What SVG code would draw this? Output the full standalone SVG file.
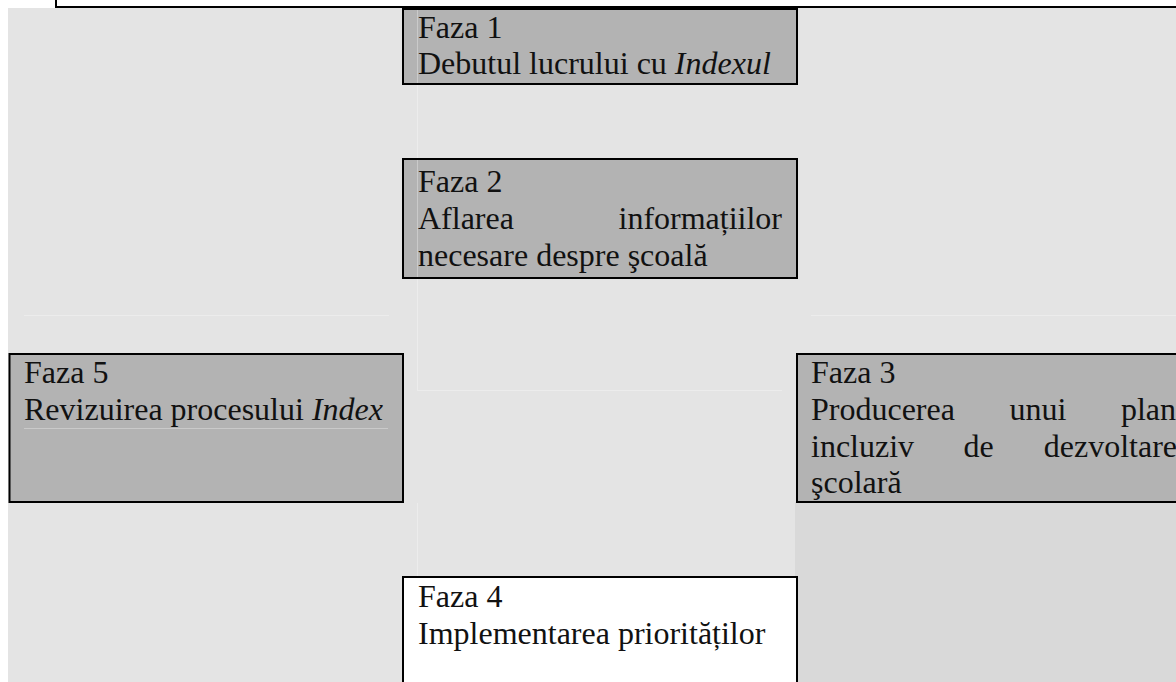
<svg xmlns="http://www.w3.org/2000/svg" width="1176" height="682" viewBox="0 0 1176 682">
  <style>
    .bg { fill: #e4e4e4; }
    .box { fill: #b3b3b3; stroke: #000; stroke-width: 2; }
    .box-white { fill: #ffffff; stroke: #000; stroke-width: 2; }
    .grid { stroke: #ffffff; stroke-opacity: 0.3; stroke-width: 1; fill: none; }
    text { font-family: "Liberation Serif", "Times New Roman", serif; font-size: 32px; fill: #111; }
    .it { font-style: italic; }
  </style>
  <rect x="0" y="0" width="1176" height="682" fill="#ffffff"/>
  <g id="background">
    <rect class="bg" x="8" y="8" width="1168" height="674"/>
    <rect x="795" y="502" width="381" height="180" fill="#d9d9d9"/>
    <line x1="56" y1="7" x2="1176" y2="7" stroke="#000" stroke-width="2"/>
    <line x1="56" y1="0" x2="56" y2="8" stroke="#000" stroke-width="2"/>
  </g>
  <g id="grid-lines">
    <line class="grid" x1="417.5" y1="9" x2="417.5" y2="390"/>
    <line class="grid" x1="417" y1="390.5" x2="782" y2="390.5"/>
    <line class="grid" x1="24" y1="315.5" x2="389" y2="315.5"/>
    <line class="grid" x1="811" y1="315.5" x2="1176" y2="315.5"/>
    <line class="grid" x1="417.5" y1="503" x2="417.5" y2="577"/>
  </g>
  <g id="connectors"></g>
  <g id="faza1">
    <rect class="box" x="403" y="9" width="394" height="75"/>
    <line class="grid" x1="417.5" y1="10" x2="417.5" y2="83"/>
    <text x="418" y="38">Faza 1</text>
    <text x="418" y="74">Debutul lucrului cu <tspan class="it">Indexul</tspan></text>
  </g>
  <g id="faza2">
    <rect class="box" x="403" y="159" width="394" height="119"/>
    <line class="grid" x1="417.5" y1="160" x2="417.5" y2="277"/>
    <text x="418" y="192">Faza 2</text>
    <text x="418" y="229">Aflarea</text>
    <text x="782" y="229" text-anchor="end">informațiilor</text>
    <text x="418" y="266">necesare despre şcoală</text>
  </g>
  <g id="faza5">
    <rect class="box" x="9.5" y="354" width="393.5" height="148"/>
    <line class="grid" x1="24" y1="428.5" x2="388" y2="428.5"/>
    <text x="24" y="383">Faza 5</text>
    <text x="24" y="420">Revizuirea procesului <tspan class="it">Index</tspan></text>
  </g>
  <g id="faza3">
    <rect class="box" x="797" y="354" width="400" height="148"/>
    <text x="811" y="383">Faza 3</text>
    <text x="811" y="420">Producerea</text>
    <text x="1009.5" y="420">unui</text>
    <text x="1176" y="420" text-anchor="end">plan</text>
    <text x="811" y="457">incluziv</text>
    <text x="963.5" y="457">de</text>
    <text x="1177" y="457" text-anchor="end">dezvoltare</text>
    <text x="811" y="493">şcolară</text>
  </g>
  <g id="faza4">
    <rect class="box-white" x="403" y="577" width="394" height="120"/>
    <text x="418" y="607">Faza 4</text>
    <text x="418" y="644">Implementarea priorităților</text>
  </g>
</svg>
